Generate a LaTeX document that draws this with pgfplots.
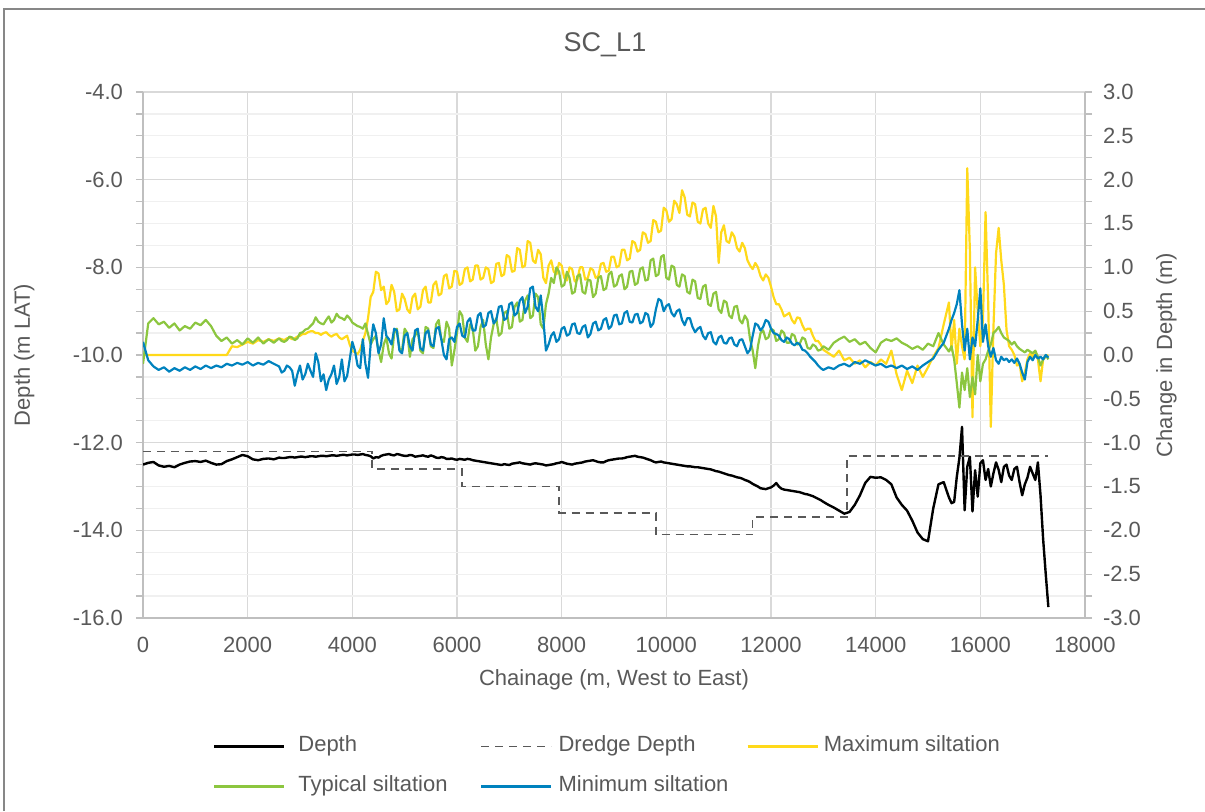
\documentclass[border=0pt]{standalone}
\usepackage{pgfplots}
\pgfplotsset{compat=1.18}
\usepackage{pgfplotstable}
\usepackage{fontspec}
\setmainfont{Liberation Sans}

\definecolor{txt}{HTML}{595959}
\definecolor{gmaj}{HTML}{D9D9D9}
\definecolor{gmin}{HTML}{F0F0F0}
\definecolor{axl}{HTML}{BFBFBF}
\definecolor{frame}{HTML}{878787}
\definecolor{cmax}{HTML}{FFD91A}
\definecolor{ctyp}{HTML}{8CC63F}
\definecolor{cmin}{HTML}{0082BE}
\definecolor{cdredge}{HTML}{595959}

% chainage, depth (left axis), siltation max/typ/min (right axis)
\pgfplotstableread{
x dep smax styp smin
0 -12.50 0.00 -0.10 0.15
100 -12.46 0.00 0.36 -0.06
200 -12.44 0.00 0.42 -0.13
300 -12.52 0.00 0.35 -0.17
400 -12.55 0.00 0.38 -0.14
500 -12.53 0.00 0.31 -0.19
600 -12.56 0.00 0.36 -0.15
700 -12.50 0.00 0.28 -0.18
800 -12.46 0.00 0.33 -0.14
900 -12.43 0.00 0.30 -0.17
1000 -12.42 0.00 0.37 -0.13
1100 -12.44 0.00 0.34 -0.16
1200 -12.41 0.00 0.40 -0.12
1300 -12.46 0.00 0.33 -0.15
1400 -12.50 0.00 0.22 -0.12
1500 -12.49 0.00 0.16 -0.14
1600 -12.42 0.00 0.20 -0.10
1700 -12.38 0.10 0.13 -0.12
1800 -12.33 0.09 0.17 -0.09
1900 -12.28 0.12 0.12 -0.11
2000 -12.31 0.15 0.19 -0.08
2100 -12.38 0.13 0.14 -0.12
2200 -12.40 0.17 0.20 -0.09
2300 -12.37 0.15 0.13 -0.11
2400 -12.36 0.18 0.18 -0.07
2500 -12.38 0.16 0.14 -0.10
2600 -12.34 0.19 0.19 -0.13
2650 -12.35 0.18 0.16 -0.20
2700 -12.35 0.17 0.15 -0.18
2750 -12.34 0.19 0.17 -0.12
2800 -12.33 0.20 0.21 -0.14
2850 -12.33 0.18 0.20 -0.18
2900 -12.34 0.19 0.17 -0.35
2950 -12.33 0.21 0.19 -0.22
3000 -12.32 0.22 0.25 -0.12
3050 -12.32 0.24 0.26 -0.28
3100 -12.33 0.24 0.29 -0.22
3150 -12.32 0.26 0.30 -0.10
3200 -12.31 0.27 0.33 -0.18
3250 -12.31 0.27 0.36 -0.25
3300 -12.32 0.25 0.43 0.02
3350 -12.31 0.25 0.38 -0.08
3400 -12.30 0.23 0.36 -0.30
3450 -12.30 0.25 0.35 -0.22
3500 -12.31 0.26 0.40 -0.40
3550 -12.30 0.23 0.44 -0.28
3600 -12.29 0.21 0.37 -0.22
3650 -12.29 0.23 0.40 -0.12
3700 -12.30 0.24 0.47 -0.33
3750 -12.29 0.20 0.43 -0.25
3800 -12.28 0.18 0.42 -0.05
3850 -12.28 0.20 0.40 -0.30
3900 -12.29 0.22 0.45 -0.24
3950 -12.28 0.12 0.42 -0.05
4000 -12.27 0.05 0.37 0.15
4050 -12.27 0.03 0.35 0.05
4100 -12.28 0.01 0.33 -0.12
4150 -12.27 0.06 0.32 -0.15
4200 -12.26 0.16 0.30 0.18
4250 -12.28 0.25 0.36 -0.10
4300 -12.29 0.42 0.24 -0.26
4350 -12.31 0.66 0.12 0.12
4400 -12.36 0.72 0.18 0.35
4450 -12.33 0.95 0.22 0.25
4500 -12.34 0.93 0.05 0.02
4550 -12.30 0.74 -0.08 0.12
4600 -12.28 0.78 0.12 0.42
4650 -12.27 0.58 0.20 0.22
4700 -12.26 0.62 0.02 0.18
4750 -12.28 0.80 -0.04 0.12
4800 -12.29 0.72 0.25 0.30
4850 -12.26 0.50 0.30 0.28
4900 -12.27 0.52 0.08 0.05
4950 -12.29 0.70 0.05 0.02
5000 -12.30 0.64 0.30 0.22
5050 -12.30 0.52 0.25 0.25
5100 -12.28 0.48 -0.02 0.10
5150 -12.29 0.66 0.18 0.05
5200 -12.32 0.70 0.22 0.28
5250 -12.31 0.52 0.28 0.30
5300 -12.30 0.55 0.05 0.08
5350 -12.29 0.74 0.02 0.05
5400 -12.31 0.78 0.32 0.25
5450 -12.32 0.60 0.30 0.28
5500 -12.29 0.60 0.10 0.12
5550 -12.31 0.80 0.08 0.10
5600 -12.34 0.84 0.35 0.30
5650 -12.35 0.68 0.40 0.32
5700 -12.33 0.70 0.18 0.18
5750 -12.34 0.90 0.15 0.00
5800 -12.37 0.92 0.38 -0.05
5850 -12.37 0.76 0.30 0.18
5900 -12.36 0.78 -0.12 0.20
5950 -12.38 0.96 0.05 0.15
6000 -12.39 0.95 0.25 0.32
6050 -12.37 0.80 0.50 0.36
6100 -12.38 0.82 0.45 0.22
6150 -12.39 0.98 0.20 0.20
6200 -12.37 1.00 0.15 0.38
6250 -12.38 0.84 0.35 0.42
6300 -12.40 0.86 0.30 0.28
6350 -12.41 1.02 0.05 0.28
6400 -12.42 1.02 0.10 0.45
6450 -12.43 0.86 0.32 0.48
6500 -12.44 0.88 0.40 0.32
6550 -12.45 1.00 0.12 0.34
6600 -12.46 0.98 -0.05 0.48
6650 -12.47 0.82 0.20 0.50
6700 -12.48 0.84 0.35 0.36
6750 -12.49 1.04 0.42 0.40
6800 -12.50 1.05 0.22 0.55
6850 -12.51 0.90 0.25 0.56
6900 -12.49 0.92 0.48 0.40
6950 -12.50 1.14 0.50 0.42
7000 -12.51 1.12 0.30 0.58
7050 -12.48 0.95 0.32 0.60
7100 -12.47 0.96 0.55 0.45
7150 -12.46 1.22 0.60 0.48
7200 -12.45 1.20 0.38 0.62
7250 -12.47 1.00 0.40 0.66
7300 -12.48 1.02 0.62 0.48
7350 -12.49 1.30 0.68 0.55
7400 -12.50 1.28 0.42 0.76
7450 -12.48 1.08 0.45 0.78
7500 -12.47 1.05 0.70 0.55
7550 -12.48 1.20 0.66 0.50
7600 -12.49 1.15 0.35 0.68
7650 -12.50 0.88 0.30 0.40
7700 -12.52 0.82 0.58 0.05
7750 -12.51 1.02 0.70 0.12
7800 -12.50 1.08 0.88 0.22
7850 -12.49 0.95 0.82 0.26
7900 -12.47 0.92 1.00 0.15
7950 -12.46 1.05 0.95 0.18
8000 -12.44 1.02 0.78 0.30
8050 -12.46 0.88 0.80 0.32
8100 -12.48 0.85 0.95 0.22
8150 -12.49 1.00 0.88 0.24
8200 -12.50 0.98 0.70 0.35
8250 -12.48 0.84 0.72 0.36
8300 -12.47 0.86 0.90 0.25
8350 -12.46 1.00 0.92 0.24
8400 -12.45 1.00 0.72 0.32
8450 -12.43 0.86 0.70 0.34
8500 -12.42 0.88 0.86 0.20
8550 -12.41 0.99 0.85 0.24
8600 -12.40 0.97 0.66 0.36
8650 -12.42 0.88 0.70 0.38
8700 -12.44 0.90 0.88 0.28
8750 -12.45 1.04 0.90 0.30
8800 -12.45 1.05 0.74 0.40
8850 -12.42 0.95 0.76 0.42
8900 -12.40 0.96 0.92 0.30
8950 -12.39 1.12 0.95 0.33
9000 -12.38 1.12 0.78 0.45
9050 -12.37 1.00 0.80 0.46
9100 -12.36 1.02 0.90 0.35
9150 -12.36 1.20 0.92 0.36
9200 -12.35 1.20 0.75 0.48
9250 -12.33 1.08 0.78 0.50
9300 -12.32 1.10 0.95 0.38
9350 -12.31 1.30 0.96 0.37
9400 -12.30 1.28 0.80 0.46
9450 -12.32 1.18 0.82 0.47
9500 -12.33 1.20 0.98 0.36
9550 -12.34 1.40 1.00 0.38
9600 -12.36 1.38 0.85 0.48
9650 -12.38 1.28 0.86 0.46
9700 -12.40 1.30 1.08 0.32
9750 -12.43 1.54 1.10 0.36
9800 -12.45 1.52 0.90 0.52
9850 -12.44 1.40 0.92 0.64
9900 -12.43 1.42 1.12 0.62
9950 -12.45 1.68 1.14 0.50
10000 -12.46 1.65 0.88 0.56
10050 -12.47 1.52 0.86 0.58
10100 -12.48 1.55 1.02 0.48
10150 -12.49 1.76 1.00 0.44
10200 -12.50 1.72 0.80 0.50
10250 -12.51 1.62 0.78 0.52
10300 -12.52 1.88 0.92 0.40
10350 -12.53 1.80 0.90 0.34
10400 -12.54 1.60 0.72 0.42
10450 -12.54 1.58 0.70 0.42
10500 -12.55 1.74 0.86 0.32
10550 -12.56 1.72 0.84 0.26
10600 -12.56 1.52 0.65 0.30
10650 -12.57 1.50 0.64 0.32
10700 -12.58 1.66 0.78 0.22
10750 -12.59 1.68 0.80 0.18
10800 -12.60 1.50 0.58 0.25
10850 -12.61 1.45 0.56 0.26
10900 -12.63 1.70 0.70 0.15
10950 -12.65 1.58 0.72 0.12
11000 -12.66 1.05 0.52 0.20
11050 -12.68 1.40 0.48 0.22
11100 -12.70 1.48 0.62 0.14
11150 -12.72 1.30 0.60 0.13
11200 -12.74 1.28 0.45 0.19
11250 -12.75 1.40 0.42 0.20
11300 -12.77 1.35 0.55 0.12
11350 -12.79 1.22 0.56 0.10
11400 -12.80 1.18 0.40 0.17
11450 -12.82 1.28 0.36 0.18
11500 -12.85 1.22 0.45 0.10
11550 -12.87 1.08 0.40 0.02
11600 -12.90 1.02 0.18 0.06
11650 -12.94 0.98 0.05 0.22
11700 -12.97 1.05 -0.15 0.36
11750 -13.00 1.00 0.10 0.34
11800 -13.04 0.90 0.25 0.28
11850 -13.05 0.85 0.28 0.32
11900 -13.06 0.92 0.18 0.40
11950 -13.04 0.88 0.20 0.38
12000 -13.02 0.78 0.30 0.30
12050 -12.98 0.66 0.28 0.25
12100 -12.92 0.58 0.16 0.24
12150 -13.00 0.58 0.18 0.22
12200 -13.05 0.52 0.28 0.17
12250 -13.07 0.44 0.25 0.15
12300 -13.08 0.46 0.14 0.20
12350 -13.09 0.48 0.14 0.18
12400 -13.10 0.40 0.24 0.13
12450 -13.11 0.36 0.22 0.11
12500 -13.12 0.43 0.12 0.14
12550 -13.13 0.42 0.13 0.12
12600 -13.15 0.34 0.20 0.06
12650 -13.17 0.28 0.18 0.05
12700 -13.18 0.30 0.08 0.02
12750 -13.20 0.30 0.07 -0.02
12800 -13.22 0.22 0.12 -0.05
12850 -13.25 0.16 0.10 -0.08
12900 -13.28 0.16 0.05 -0.12
12950 -13.31 0.12 0.06 -0.15
13000 -13.35 0.06 0.10 -0.17
13100 -13.42 0.02 0.06 -0.14
13200 -13.48 -0.02 0.14 -0.16
13300 -13.55 0.05 0.18 -0.12
13400 -13.62 -0.06 0.21 -0.10
13500 -13.58 -0.03 0.15 -0.13
13600 -13.42 -0.10 0.18 -0.08
13700 -13.20 -0.06 0.12 -0.10
13800 -12.92 -0.14 0.15 -0.06
13900 -12.78 -0.08 0.08 -0.09
14000 -12.80 -0.12 0.03 -0.12
14100 -12.79 -0.05 0.14 -0.10
14200 -12.85 -0.10 0.18 -0.14
14300 -12.95 0.05 0.16 -0.12
14400 -13.25 -0.22 0.19 -0.15
14500 -13.42 -0.40 0.14 -0.12
14600 -13.55 -0.18 0.11 -0.16
14700 -13.78 -0.32 0.07 -0.13
14800 -14.05 -0.12 0.10 -0.17
14900 -14.20 -0.25 0.06 -0.12
15000 -14.25 -0.14 0.13 -0.08
15100 -13.50 -0.02 0.10 -0.04
15200 -12.95 0.08 0.25 0.06
15300 -12.90 0.35 0.12 0.14
15400 -13.25 0.60 0.04 0.30
15450 -13.38 0.05 0.10 0.40
15500 -13.35 0.40 -0.05 0.48
15550 -12.78 -0.10 -0.32 0.58
15600 -12.35 0.30 -0.60 0.74
15650 -11.64 0.10 -0.20 0.35
15700 -13.54 -0.05 -0.40 0.05
15750 -12.55 2.13 -0.15 0.30
15800 -12.32 1.20 -0.48 -0.05
15850 -13.57 -0.71 -0.25 0.20
15900 -12.63 1.00 -0.45 0.10
15950 -13.23 0.50 0.00 0.40
16000 -12.47 0.10 -0.30 0.76
16050 -12.40 0.40 -0.10 0.15
16100 -12.85 1.63 -0.05 0.35
16150 -12.60 0.60 0.05 0.10
16200 -13.00 -0.82 0.12 -0.02
16250 -12.70 0.30 0.25 0.08
16300 -12.45 1.16 0.28 -0.06
16350 -12.62 1.45 0.32 -0.10
16400 -12.90 1.08 0.25 -0.02
16450 -12.55 0.80 0.20 -0.06
16500 -12.50 0.29 0.18 -0.04
16550 -12.75 0.10 0.16 -0.08
16600 -12.85 0.06 0.12 -0.05
16650 -12.60 0.00 0.15 -0.09
16700 -12.55 -0.12 0.10 -0.04
16750 -12.90 -0.10 0.07 -0.10
16800 -13.20 -0.30 0.05 -0.20
16850 -12.95 -0.20 0.03 -0.28
16900 -12.80 -0.05 0.06 -0.08
16950 -12.55 0.02 0.04 -0.02
17000 -12.70 -0.02 0.02 -0.06
17050 -12.85 0.03 0.05 0.00
17100 -12.45 -0.05 -0.02 -0.04
17150 -13.20 -0.30 -0.12 -0.02
17200 -14.20 -0.05 -0.05 -0.05
17250 -15.00 -0.02 0.00 0.00
17300 -15.75 0.00 -0.05 -0.03
}\scdata

\pgfplotstableread{
x dd
0 -12.2
4380 -12.2
4380 -12.6
6100 -12.6
6100 -13.0
7950 -13.0
7950 -13.6
9800 -13.6
9800 -14.1
11650 -14.1
11650 -13.7
13450 -13.7
13450 -12.3
17300 -12.3
}\dredge

\pgfplotsset{
  depthline/.style={black, line width=1.2pt, line join=round},
  dredgeline/.style={cdredge, line width=0.75pt, dash pattern=on 4pt off 3pt},
  maxline/.style={cmax, line width=1.1pt, line join=round},
  typline/.style={ctyp, line width=1.1pt, line join=round},
  minline/.style={cmin, line width=1.1pt, line join=round},
  common/.style={
    at={(71.5pt,96.5pt)}, anchor=south west,
    width=471pt, height=263pt, scale only axis,
    xmin=0, xmax=18000,
    tick align=outside,
    major tick length=3.5pt, minor tick length=3.5pt,
    axis line style={axl, line width=0.6pt},
    y tick style={axl, line width=0.6pt},
    x tick style={draw=none},
    tick label style={txt, font=\fontsize{11}{13}\selectfont},
    label style={txt, font=\fontsize{11}{13}\selectfont},
    /pgf/number format/assume math mode=true,
    scaled ticks=false,
    yticklabel style={/pgf/number format/fixed, /pgf/number format/fixed zerofill,
      /pgf/number format/precision=1},
  },
}

\begin{document}
\begin{tikzpicture}
\useasboundingbox (0pt,0pt) rectangle (602.5pt,405.5pt);
\draw[frame, line width=1pt] (2pt,0pt) -- (2pt,401pt) -- (602.5pt,401pt);
\node[txt, font=\fontsize{13.5}{16}\selectfont] at (302.5pt,383pt) {SC\_L1};

\begin{axis}[common,
  ymin=-16, ymax=-4,
  xtick={0,2000,...,18000},
  ytick={-16,-14,...,-4},
  minor y tick num=3,
  axis y line*=left, axis x line*=bottom,
  grid=both,
  major grid style={gmaj, line width=0.7pt},
  minor grid style={gmin, line width=0.6pt},
  xticklabel style={/pgf/number format/1000 sep={}, yshift=-2.5pt},
  yticklabel style={xshift=-3pt},
  xlabel={Chainage (m, West to East)},
  ylabel={Depth (m LAT)},
  xlabel style={at={(axis description cs:0.5,-0.1179)}, anchor=center},
  ylabel style={at={(axis description cs:-0.126,0.5)}, anchor=center},
]
\addplot[depthline] table[x=x, y=dep] {\scdata};
\addplot[dredgeline] table[x=x, y=dd] {\dredge};
\end{axis}

\begin{axis}[common,
  ymin=-3, ymax=3,
  ytick={-3,-2.5,...,3},
  minor y tick num=1,
  axis x line=none, axis y line*=right,
  yticklabel style={xshift=2pt},
  ylabel={Change in Depth (m)},
  ylabel style={at={(axis description cs:1.0865,0.5)}, anchor=center},
  legend columns=3,
  legend image code/.code={\draw[#1] (0pt,0pt) -- (35pt,0pt);},
  legend style={at={(0.0743,-0.2243)}, anchor=north west, draw=none, fill=none,
    inner sep=0pt, outer sep=0pt, column sep=0pt, row sep=9.5pt,
    font=\fontsize{11}{13}\selectfont, text=txt,
    nodes={inner sep=0pt, text height=8pt, text depth=2.5pt},
    cells={anchor=west}},
]
\addlegendimage{depthline}
\addlegendentry{\hspace*{6.5pt}\makebox[91pt][l]{Depth}}
\addlegendimage{dredgeline}
\addlegendentry{\hspace*{3pt}\makebox[94pt][l]{Dredge Depth}}
\addplot[maxline] table[x=x, y=smax] {\scdata};
\addlegendentry{\hspace*{2.5pt}Maximum siltation}
\addplot[typline] table[x=x, y=styp] {\scdata};
\addlegendentry{\hspace*{6.5pt}\makebox[91pt][l]{Typical siltation}}
\addplot[minline] table[x=x, y=smin] {\scdata};
\addlegendentry{\hspace*{3pt}\makebox[94pt][l]{Minimum siltation}}
\end{axis}
\end{tikzpicture}
\end{document}
